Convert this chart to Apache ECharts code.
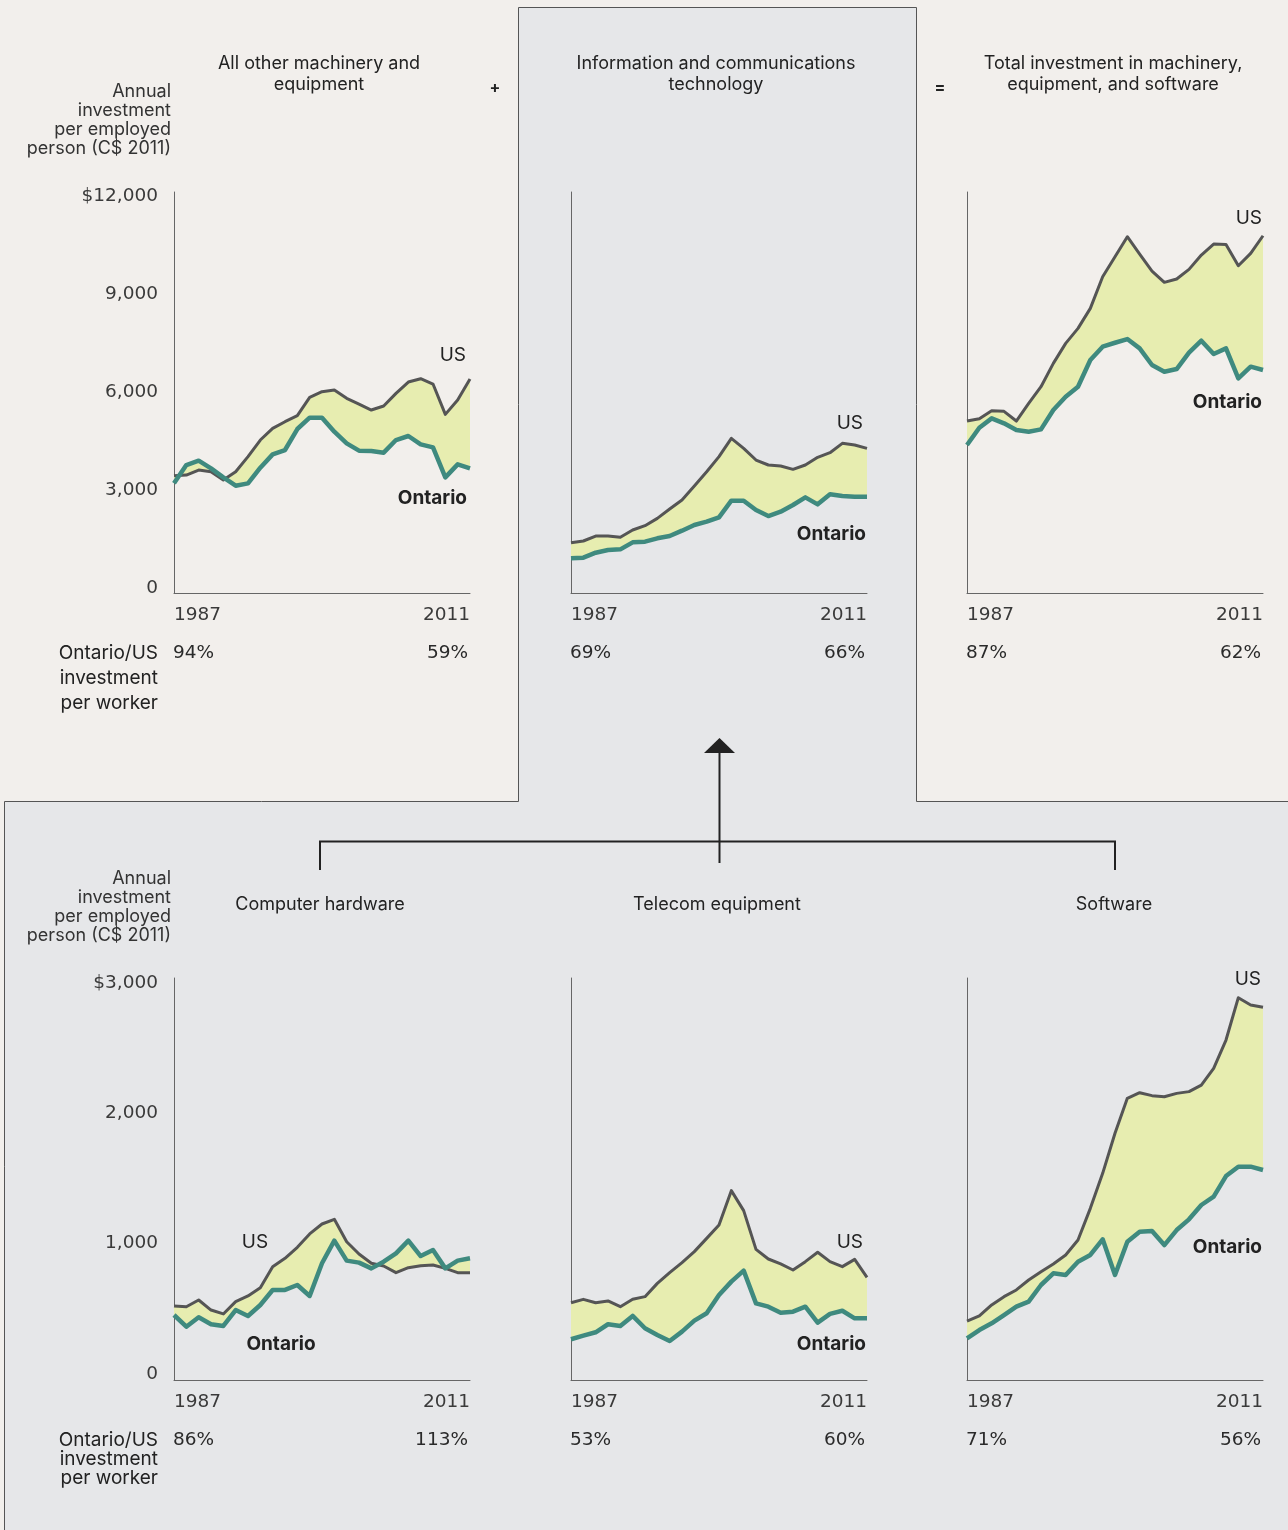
<!DOCTYPE html>
<html><head><meta charset="utf-8">
<script src="https://cdn.jsdelivr.net/npm/echarts@6/dist/echarts.min.js"></script>
<style>html,body{margin:0;padding:0;background:#f2efec}#c{width:1288px;height:1530px}</style>
</head><body><div id="c"></div>
<script>
// ---------- data ----------
const years = [];
for (let y = 1987; y <= 2011; y++) years.push(String(y));

const otherUS  = [3510,3530,3680,3630,3381,3630,4080,4578,4927,5126,5306,5854,6024,6074,5825,5655,5475,5595,5974,6313,6413,6253,5346,5775,6403];
const otherON  = [3281,3830,3959,3730,3461,3211,3281,3750,4149,4279,4907,5246,5246,4827,4479,4259,4249,4199,4578,4698,4449,4359,3461,3850,3730];
const ictUS    = [1505,1556,1705,1705,1666,1885,2014,2234,2513,2783,3202,3630,4080,4628,4329,3979,3830,3800,3700,3830,4060,4199,4479,4428,4329];
const ictON    = [1037,1057,1206,1286,1306,1516,1536,1636,1705,1865,2035,2134,2264,2763,2763,2483,2304,2433,2633,2862,2653,2953,2902,2882,2882];
const totalUS  = [5146,5216,5455,5436,5146,5675,6173,6871,7470,7919,8518,9465,10062,10661,10143,9634,9296,9395,9685,10113,10442,10432,9793,10163,10691];
const totalON  = [4428,4946,5226,5077,4877,4827,4897,5475,5874,6173,6971,7370,7489,7600,7320,6822,6622,6702,7191,7550,7151,7320,6423,6772,6672];
const hwUS     = [552,547,597,522,493,585,627,689,846,908,990,1090,1164,1199,1032,940,871,851,801,838,853,858,833,801,801];
const hwON     = [485,398,468,416,403,522,478,560,672,672,709,627,871,1040,891,876,833,883,945,1040,925,970,833,891,908];
const telUS    = [577,602,577,590,547,602,622,721,801,876,958,1057,1157,1413,1264,975,903,866,821,883,953,883,846,900,766];
const telON    = [304,331,356,416,403,478,386,336,291,361,443,498,634,734,816,572,547,502,510,547,428,493,517,460,460];
const swUS     = [440,478,560,622,672,746,808,866,933,1045,1281,1542,1841,2102,2144,2122,2114,2139,2152,2201,2326,2537,2853,2799,2781];
const swON     = [311,373,423,485,547,585,709,796,784,883,933,1050,784,1032,1107,1112,1007,1119,1199,1306,1368,1522,1592,1592,1567];

const titles = [
  'All other machinery and\nequipment',
  'Information and communications\ntechnology',
  'Total investment in machinery,\nequipment, and software',
  'Computer hardware',
  'Telecom equipment',
  'Software'
];
const ratioStart = ['94%','69%','87%','86%','53%','71%'];
const ratioEnd   = ['59%','66%','62%','113%','60%','56%'];
const topTickLabels    = ['0','3,000','6,000','9,000','$12,000'];
const bottomTickLabels = ['0','1,000','2,000','$3,000'];
const unitLabel  = 'Annual\ninvestment\nper employed\nperson (C$ 2011)';
const ratioLabel = 'Ontario/US\ninvestment\nper worker';

// ---------- layout ----------
const FONT = 'Inter, "Noto Sans", sans-serif';
const TICKFONT = '"DejaVu Sans", sans-serif';
const C_US = '#555555', C_ON = '#3f8a7f', C_FILL = '#e7edb0', C_AX = '#666666', C_TXT = '#222222';
const colLeft = [174, 571, 967];
const gridW = 296;
const rowTop = [192, 978];
const rowH = [401, 402];
const rowMax = [12000, 3000];

const panels = [
  {us: otherUS, on: otherON, row: 0, col: 0},
  {us: ictUS,   on: ictON,   row: 0, col: 1},
  {us: totalUS, on: totalON, row: 0, col: 2},
  {us: hwUS,    on: hwON,    row: 1, col: 0},
  {us: telUS,   on: telON,   row: 1, col: 1},
  {us: swUS,    on: swON,    row: 1, col: 2}
];

const grid = [], xAxis = [], yAxis = [], series = [];
panels.forEach((p, i) => {
  grid.push({left: colLeft[p.col], top: rowTop[p.row], width: gridW, height: rowH[p.row]});
  xAxis.push({
    type: 'category', gridIndex: i, data: years, boundaryGap: false,
    axisLine: {show: true, lineStyle: {color: C_AX, width: 1}},
    axisTick: {show: false},
    axisLabel: {
      interval: (idx) => idx === 0 || idx === years.length - 1,
      showMinLabel: true, showMaxLabel: true,
      alignMinLabel: 'left', alignMaxLabel: 'right',
      margin: 13, fontFamily: TICKFONT, fontSize: 18.5, color: '#3a3a3a', fontWeight: 'normal'
    }
  });
  yAxis.push({
    type: 'value', gridIndex: i, min: 0, max: rowMax[p.row],
    axisLine: {show: true, lineStyle: {color: C_AX, width: 1}},
    axisTick: {show: false}, axisLabel: {show: false}, splitLine: {show: false}
  });
  const us = p.us, on = p.on;
  series.push({
    type: 'custom', xAxisIndex: i, yAxisIndex: i, silent: true, z: 1,
    data: [[0, 0]],
    renderItem: (params, api) => {
      const pts = [];
      us.forEach((v, j) => pts.push(api.coord([j, v])));
      for (let j = on.length - 1; j >= 0; j--) pts.push(api.coord([j, on[j]]));
      return {type: 'polygon', shape: {points: pts}, style: {fill: C_FILL}};
    }
  });
  series.push({type: 'line', xAxisIndex: i, yAxisIndex: i, data: us, symbol: 'none', silent: true, z: 2,
    lineStyle: {color: C_US, width: 3, join: 'round'}});
  series.push({type: 'line', xAxisIndex: i, yAxisIndex: i, data: on, symbol: 'none', silent: true, z: 3,
    lineStyle: {color: C_ON, width: 4.5, join: 'round'}});
});

// tick-label-only axes (left column)
const labelAxes = [
  {top: 196, height: 392, max: 12000, interval: 3000, labels: topTickLabels},
  {top: 983, height: 391, max: 3000, interval: 1000, labels: bottomTickLabels}
];
labelAxes.forEach((a) => {
  const gi = grid.length;
  grid.push({left: 173, top: a.top, width: gridW, height: a.height});
  xAxis.push({type: 'value', gridIndex: gi, show: false, min: 0, max: 1});
  yAxis.push({
    type: 'value', gridIndex: gi, min: 0, max: a.max, interval: a.interval,
    axisLine: {show: false}, axisTick: {show: false}, splitLine: {show: false},
    axisLabel: {margin: 15, fontFamily: TICKFONT, fontSize: 18.5, color: '#3a3a3a',
      formatter: (v) => a.labels[Math.round(v / a.interval)]}
  });
});

// ---------- graphics ----------
const g = [];
g.push({type: 'rect', z: -10, shape: {x: 0, y: 0, width: 1288, height: 1530}, style: {fill: '#f2efec'}, silent: true});
g.push({type: 'polygon', z: -9, silent: true,
  shape: {points: [[4.5, 1540], [4.5, 801.5], [518.5, 801.5], [518.5, 7.5], [916.5, 7.5], [916.5, 801.5], [1300, 801.5], [1300, 1540]]},
  style: {fill: '#e6e7e9', stroke: '#555', lineWidth: 1}});
// connector
const lineSty = {stroke: '#222', lineWidth: 2};
g.push({type: 'polyline', silent: true, shape: {points: [[320, 870], [320, 841.5], [1115, 841.5], [1115, 870]]}, style: Object.assign({fill: null}, lineSty)});
g.push({type: 'line', silent: true, shape: {x1: 719.5, y1: 752, x2: 719.5, y2: 863}, style: lineSty});
g.push({type: 'polygon', silent: true, shape: {points: [[704, 753], [735, 753], [719.5, 738]]}, style: {fill: '#222'}});

function txt(x, y, text, opt) {
  opt = opt || {};
  g.push({type: 'text', x: x, y: y, silent: true, z: 10, style: {
    text: text, fill: opt.color || C_TXT, font: (opt.weight || 400) + ' ' + (opt.size || 19) + 'px ' + (opt.font || FONT),
    textAlign: opt.align || 'left', textVerticalAlign: opt.valign || 'middle', lineHeight: opt.lh
  }});
}
const DY = 1.5;
// titles
const titleX = [319, 716, 1113, 320, 717, 1114];
txt(titleX[0], 53.5, titles[0], {align: 'center', valign: 'top', size: 18, lh: 21});
txt(titleX[1], 53.5, titles[1], {align: 'center', valign: 'top', size: 18, lh: 21});
txt(titleX[2], 53.5, titles[2], {align: 'center', valign: 'top', size: 18, lh: 21});
txt(titleX[3], 903 + DY, titles[3], {align: 'center', size: 18});
txt(titleX[4], 903 + DY, titles[4], {align: 'center', size: 18});
txt(titleX[5], 903 + DY, titles[5], {align: 'center', size: 18});
txt(495, 87 + DY, '+', {align: 'center', size: 16, weight: 700});
txt(940, 87 + DY, '=', {align: 'center', size: 16, weight: 700});
// unit labels
txt(171, 82, unitLabel, {align: 'right', valign: 'top', size: 18, lh: 19, color: '#333'});
txt(171, 869, unitLabel, {align: 'right', valign: 'top', size: 18, lh: 19, color: '#333'});
// ratio labels
txt(158, 641, ratioLabel, {align: 'right', valign: 'top', size: 19, lh: 25});
txt(158, 1431, ratioLabel, {align: 'right', valign: 'top', size: 19, lh: 19});
const ratioY = [652 + DY, 1439 + DY];
panels.forEach((p, i) => {
  txt(colLeft[p.col] - 1, ratioY[p.row], ratioStart[i], {size: 18.5, font: TICKFONT, color: '#2a2a2a'});
  txt(colLeft[p.col] + gridW - 2, ratioY[p.row], ratioEnd[i], {size: 18.5, align: 'right', font: TICKFONT, color: '#2a2a2a'});
});
// series labels
const seriesLabels = [
  [466, 354, 'right', 467, 497, 'right'],
  [863, 422, 'right', 866, 533, 'right'],
  [1262, 217, 'right', 1262, 401, 'right'],
  [255, 1241, 'center', 281, 1343, 'center'],
  [863, 1241, 'right', 866, 1343, 'right'],
  [1261, 978, 'right', 1262, 1246, 'right']
];
seriesLabels.forEach((s) => {
  txt(s[0], s[1] + DY, 'US', {align: s[2], size: 19});
  txt(s[3], s[4] + DY, 'Ontario', {align: s[5], size: 19, weight: 700});
});

const chart = echarts.init(document.getElementById('c'), null, {renderer: 'canvas'});
chart.setOption({
  animation: false, backgroundColor: 'transparent',
  grid: grid, xAxis: xAxis, yAxis: yAxis, series: series, graphic: g
});
</script></body></html>
